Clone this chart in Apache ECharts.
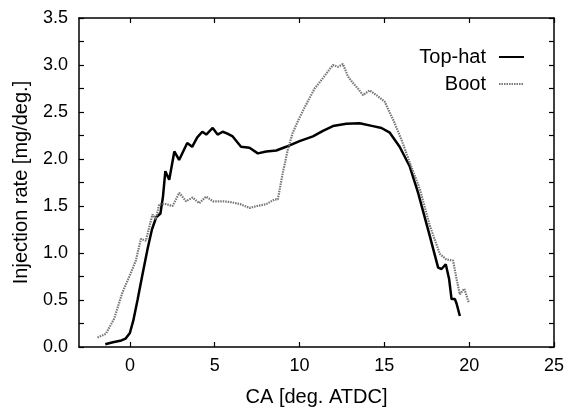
<!DOCTYPE html>
<html>
<head>
<meta charset="utf-8">
<script src="https://cdn.jsdelivr.net/npm/echarts@6/dist/echarts.min.js"></script>
<style>html,body{margin:0;padding:0;background:#fff}#c{width:569px;height:412px}</style>
</head>
<body>
<div id="c"></div>
<script>
var xTicks = [0, 5, 10, 15, 20, 25];
var topHatX = [-1.45,-1.0,-0.5,-0.25,0.0,0.2,0.45,0.75,1.05,1.3,1.55,1.8,1.95,2.09,2.32,2.62,2.9,3.38,3.67,3.97,4.27,4.5,4.88,5.17,5.47,5.75,6.06,6.55,7.05,7.54,8.04,8.63,9.21,10.0,10.79,11.38,11.97,12.76,13.54,14.33,14.83,15.32,15.9,16.5,16.99,17.68,18.17,18.37,18.62,18.82,18.96,19.16,19.26,19.45];
var topHatY = [0.03,0.05,0.07,0.09,0.15,0.28,0.5,0.78,1.05,1.25,1.38,1.42,1.6,1.87,1.78,2.08,1.99,2.17,2.13,2.23,2.29,2.26,2.33,2.26,2.29,2.27,2.24,2.13,2.12,2.06,2.08,2.09,2.13,2.19,2.24,2.30,2.35,2.375,2.38,2.35,2.33,2.28,2.13,1.92,1.64,1.18,0.845,0.83,0.88,0.72,0.51,0.51,0.46,0.33];
var bootX = [-1.91,-1.42,-0.93,-0.44,0.06,0.35,0.65,0.94,1.33,1.53,1.73,2.13,2.52,2.91,3.31,3.70,4.09,4.49,4.9,5.5,6.0,6.5,7.05,7.5,8.04,8.53,8.72,9.01,9.31,9.6,10.0,10.39,10.89,11.38,11.67,11.97,12.26,12.56,12.85,13.14,13.44,13.74,14.13,14.53,15.02,15.51,16.0,16.5,17.09,17.68,18.27,18.66,19.05,19.26,19.45,19.71,19.98];
var bootY = [0.10,0.14,0.30,0.58,0.79,0.92,1.15,1.13,1.41,1.36,1.52,1.52,1.50,1.64,1.55,1.59,1.53,1.60,1.55,1.55,1.54,1.52,1.48,1.50,1.52,1.57,1.57,1.85,2.10,2.28,2.44,2.58,2.75,2.86,2.93,3.00,2.98,3.01,2.88,2.81,2.75,2.68,2.73,2.68,2.61,2.42,2.21,1.96,1.68,1.29,0.99,0.93,0.92,0.72,0.56,0.62,0.47];

function zip(xs, ys){ return xs.map(function(x,i){ return [x, ys[i]]; }); }

var chart = echarts.init(document.getElementById('c'), null, {renderer:'canvas'});
var font = 'Liberation Sans, Arial, Helvetica, sans-serif';
var axisLine = {show:true, onZero:false, lineStyle:{color:'#000', width:1.5}};
function legendFor(name, top){
  return {data:[name], right:44, top:top, padding:0, orient:'vertical', align:'right', itemWidth:25, itemHeight:10,
    itemStyle:{opacity:0},
    textStyle:{fontFamily:font, fontSize:20, color:'#000', padding:[0,8,0,0]}};
}
chart.setOption({
  animation:false,
  backgroundColor:'#fff',
  grid:{left:79, right:15, top:18, bottom:64},
  legend:[legendFor('Top-hat', 47), legendFor('Boot', 74)],
  xAxis:[
    {type:'value', min:-3, max:25, position:'bottom',
     name:'CA [deg. ATDC]', nameLocation:'middle', nameGap:40,
     nameTextStyle:{fontFamily:font, fontSize:20, color:'#000'},
     axisLine:axisLine,
     axisTick:{show:true, inside:true, length:5, customValues:xTicks, lineStyle:{color:'#000', width:1.2}},
     axisLabel:{customValues:xTicks, fontFamily:font, fontSize:18, color:'#000', margin:10},
     splitLine:{show:false}},
    {type:'value', min:-3, max:25, position:'top',
     axisLine:axisLine,
     axisTick:{show:true, inside:true, length:5, customValues:xTicks, lineStyle:{color:'#000', width:1.2}},
     axisLabel:{show:false}, splitLine:{show:false}}
  ],
  yAxis:[
    {type:'value', min:0, max:3.5, interval:0.5, position:'left',
     name:'Injection rate [mg/deg.]', nameLocation:'middle', nameGap:48,
     nameTextStyle:{fontFamily:font, fontSize:20, color:'#000'},
     axisLine:axisLine,
     axisTick:{show:true, inside:true, length:5, lineStyle:{color:'#000', width:1.2}},
     minorTick:{show:true, splitNumber:2, length:5, lineStyle:{color:'#000', width:1.2}},
     axisLabel:{fontFamily:font, fontSize:18, color:'#000', margin:11, formatter:function(v){return v.toFixed(1);}},
     splitLine:{show:false}},
    {type:'value', min:0, max:3.5, interval:0.5, position:'right',
     axisLine:axisLine,
     axisTick:{show:true, inside:true, length:5, lineStyle:{color:'#000', width:1.2}},
     minorTick:{show:true, splitNumber:2, length:5, lineStyle:{color:'#000', width:1.2}},
     axisLabel:{show:false}, splitLine:{show:false}}
  ],
  series:[
    {name:'Top-hat', type:'line', data:zip(topHatX, topHatY), symbol:'none', smooth:false,
     lineStyle:{color:'#000', width:2.5}, itemStyle:{color:'#000'}},
    {name:'Boot', type:'line', data:zip(bootX, bootY), symbol:'none', smooth:false,
     lineStyle:{color:'#777', width:2.2, type:[1.5,1]}, itemStyle:{color:'#777'}}
  ]
});
</script>
</body>
</html>
